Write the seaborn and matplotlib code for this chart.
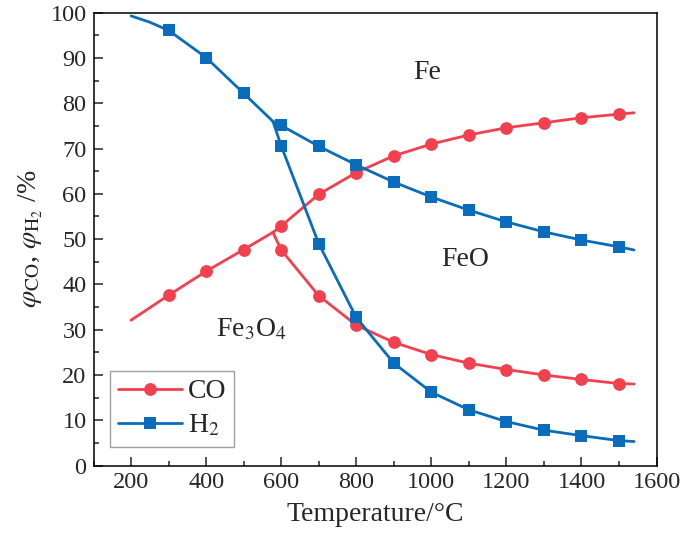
import numpy as np
import pandas as pd
import seaborn as sns
import matplotlib
matplotlib.use("Agg")
import matplotlib.pyplot as plt
from matplotlib.ticker import MultipleLocator
from matplotlib.lines import Line2D

# ---- data ----
T_low_co = [200, 300, 400, 500, 578]
co_fe3o4_fe = [32.1, 37.6, 42.9, 47.7, 51.5]
T_high = [578, 600, 700, 800, 900, 1000, 1100, 1200, 1300, 1400, 1500, 1540]
co_feo_fe = [51.5, 52.9, 59.9, 64.7, 68.4, 71.0, 73.0, 74.6, 75.7, 76.8, 77.6, 77.9]
co_fe3o4_feo = [51.5, 47.6, 37.5, 31.0, 27.2, 24.5, 22.6, 21.2, 20.0, 19.0, 18.1, 18.0]

T_low_h2 = [200, 250, 300, 400, 500, 578]
h2_fe3o4_fe = [99.3, 97.9, 96.1, 90.1, 82.2, 76.0]
h2_feo_fe = [76.0, 75.1, 70.5, 66.4, 62.6, 59.3, 56.4, 53.8, 51.6, 49.8, 48.3, 47.6]
h2_fe3o4_feo = [76.0, 70.6, 49.0, 32.7, 22.6, 16.2, 12.3, 9.7, 7.8, 6.6, 5.5, 5.3]

series_labels = ["CO", "H$_2$"]
region_labels = ["Fe", "FeO", "Fe$_3$O$_4$"]
x_ticks = [200, 400, 600, 800, 1000, 1200, 1400, 1600]
y_ticks = [0, 10, 20, 30, 40, 50, 60, 70, 80, 90, 100]

RED = "#F2404E"
BLUE = "#0A6CBC"

sns.set_style("ticks")
plt.rcParams["font.family"] = ["Liberation Serif", "DejaVu Serif"]
plt.rcParams["mathtext.fontset"] = "stix"

fig = plt.figure(figsize=(6.85, 5.48), dpi=100)
ax = fig.add_axes([0.1365, 0.1505, 0.822, 0.8263])

lw = 2.0
co_style = dict(color=RED, marker="o", markersize=9.2, linewidth=lw,
                markeredgewidth=0)
h2_style = dict(color=BLUE, marker="s", markersize=8.0, linewidth=lw,
                markeredgewidth=0)

hi_marks = list(range(1, 11))
sns.lineplot(x=T_low_co, y=co_fe3o4_fe, ax=ax, markevery=[1, 2, 3], **co_style)
sns.lineplot(x=T_high, y=co_feo_fe, ax=ax, markevery=hi_marks, **co_style)
sns.lineplot(x=T_high, y=co_fe3o4_feo, ax=ax, markevery=hi_marks, **co_style)
sns.lineplot(x=T_low_h2, y=h2_fe3o4_fe, ax=ax, markevery=[2, 3, 4], **h2_style)
sns.lineplot(x=T_high, y=h2_feo_fe, ax=ax, markevery=hi_marks, **h2_style)
sns.lineplot(x=T_high, y=h2_fe3o4_feo, ax=ax, markevery=hi_marks, **h2_style)

ax.set_xlim(100, 1600)
ax.set_ylim(0, 100)
ax.set_xticks(x_ticks)
ax.set_yticks(y_ticks)
ax.xaxis.set_minor_locator(MultipleLocator(100))
ax.yaxis.set_minor_locator(MultipleLocator(5))
ax.tick_params(which="major", direction="in", length=6.5, width=1.1,
               labelsize=17.5, top=False, right=False, pad=5)
ax.tick_params(which="minor", direction="in", length=3.6, width=1.1,
               top=False, right=False)
for s in ax.spines.values():
    s.set_linewidth(1.1)
    s.set_color("black")
    s.set_visible(True)

ax.set_xlabel("Temperature/°C", fontsize=20, labelpad=6)
ax.set_ylabel(r"$\varphi_{\rm CO}$, $\varphi_{{\rm H}_2}$ /%", fontsize=20,
              labelpad=4)

ax.text(989, 86.9, region_labels[0], fontsize=20, ha="center", va="center")
ax.text(1091, 45.4, region_labels[1], fontsize=20, ha="center", va="center")
ax.text(520, 30.0, region_labels[2], fontsize=20, ha="center", va="center")

handles = [Line2D([], [], **co_style), Line2D([], [], **h2_style)]
leg = ax.legend(handles, series_labels, loc="lower left",
                bbox_to_anchor=(0.029, 0.0415), borderaxespad=0,
                fontsize=20, handlelength=2.3, handletextpad=0.2,
                labelspacing=0.3, borderpad=0.3, fancybox=False,
                frameon=True, edgecolor="#888888")
leg.get_frame().set_linewidth(1.0)

fig.savefig("out.png", dpi=100)
